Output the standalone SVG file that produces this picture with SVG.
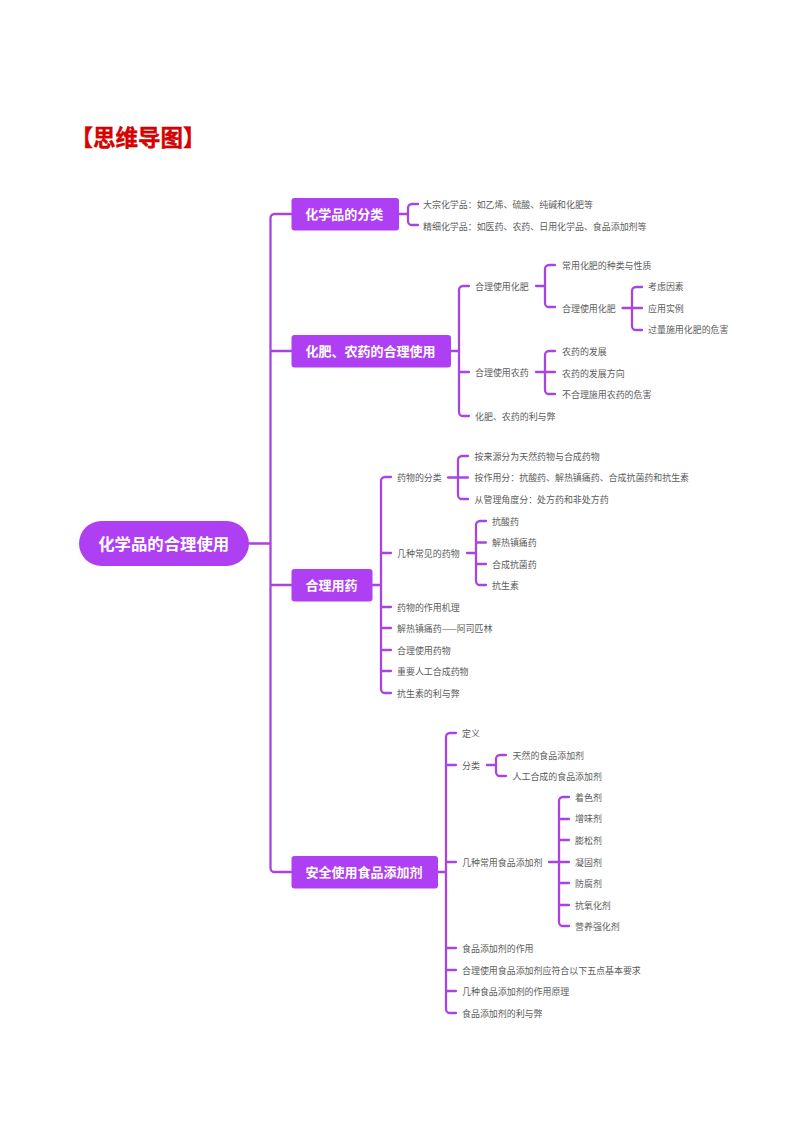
<svg xmlns="http://www.w3.org/2000/svg" width="794" height="1123" viewBox="0 0 794 1123">
<style>
text{font-family:"Noto Sans CJK SC","Liberation Sans",sans-serif}
.t{font-size:22.500px;font-weight:700;fill:#e00000;stroke:#b00000;stroke-width:.4}
.r{fill:#ae3ff2}
.rt{fill:#fff;font-weight:700;text-anchor:middle}
.l{font-size:8.950px;fill:#5c5c5c}
.c path{fill:none;stroke:#a845e0;stroke-width:2.300;stroke-linecap:round}
</style>
<rect width="794" height="1123" fill="#fff"/>
<text class="t" x="70.500" y="145.500">【思维导图】</text>
<g class="c" id="connectors">
<path d="M249 543.500H270.500M270.500 218a4 4 0 0 1 4-4H291.500M270.500 218V868a4 4 0 0 0 4 4H291.500M270.500 351H291.500M270.500 585H291.500"/>
<path d="M399 214H408M418 204H412a4 4 0 0 0-4 4V221a4 4 0 0 0 4 4H418"/>
<path d="M451 351H459M469 286H463a4 4 0 0 0-4 4V412a4 4 0 0 0 4 4H469M459 372H469"/>
<path d="M536 286H545M555 265H549a4 4 0 0 0-4 4V303a4 4 0 0 0 4 4H555"/>
<path d="M622.500 308H632M642 287H636a4 4 0 0 0-4 4V326a4 4 0 0 0 4 4H642M632 308H642"/>
<path d="M536 372H545M555 351H549a4 4 0 0 0-4 4V390a4 4 0 0 0 4 4H555M545 372H555"/>
<path d="M372.500 585H381M391 477H385a4 4 0 0 0-4 4V689a4 4 0 0 0 4 4H391M381 553H391M381 607H391M381 628H391M381 650H391M381 671H391"/>
<path d="M448 477.500H458M468 456H462a4 4 0 0 0-4 4V495a4 4 0 0 0 4 4H468M458 477.500H468"/>
<path d="M467 553H476M486 521H480a4 4 0 0 0-4 4V581a4 4 0 0 0 4 4H486M476 542.500H486M476 564H486"/>
<path d="M438 872H446M456 733H450a4 4 0 0 0-4 4V1009a4 4 0 0 0 4 4H456M446 765H456M446 862H456M446 948H456M446 970H456M446 991H456"/>
<path d="M487 765H496M506 755H500a4 4 0 0 0-4 4V772a4 4 0 0 0 4 4H506"/>
<path d="M549 862H559M569 797H563a4 4 0 0 0-4 4V922a4 4 0 0 0 4 4H569M559 819H569M559 840H569M559 862H569M559 883H569M559 905H569"/>
</g>
<g id="root"><rect class="r" x="79" y="521" width="170" height="45" rx="22.500"/><text class="rt" x="163.700" y="549.800" font-size="16.400">化学品的合理使用</text></g>
<g id="n1"><rect class="r" x="291.500" y="198" width="107.500" height="32.500" rx="3"/><text class="rt" x="344.300" y="219" font-size="13">化学品的分类</text></g>
<g id="n2"><rect class="r" x="291.500" y="335" width="159.500" height="32.500" rx="3"/><text class="rt" x="370.500" y="356" font-size="13">化肥、农药的合理使用</text></g>
<g id="n3"><rect class="r" x="291.500" y="569" width="81" height="32.500" rx="3"/><text class="rt" x="331.500" y="590" font-size="13">合理用药</text></g>
<g id="n4"><rect class="r" x="291.500" y="856" width="146.500" height="32.500" rx="3"/><text class="rt" x="364" y="877" font-size="13">安全使用食品添加剂</text></g>
<g id="leaves">
<g id="a1"><text class="l" x="423" y="207.500">大宗化学品：如乙烯、硫酸、纯碱和化肥等</text></g>
<g id="a2"><text class="l" x="423" y="229.500">精细化学品：如医药、农药、日用化学品、食品添加剂等</text></g>
<g id="b1"><text class="l" x="475" y="289.500">合理使用化肥</text></g>
<g id="b2"><text class="l" x="562" y="268.500">常用化肥的种类与性质</text></g>
<g id="b3"><text class="l" x="562" y="311.500">合理使用化肥</text></g>
<g id="b4"><text class="l" x="648" y="290.200">考虑因素</text></g>
<g id="b5"><text class="l" x="648" y="311.500">应用实例</text></g>
<g id="b6"><text class="l" x="648" y="333.200">过量施用化肥的危害</text></g>
<g id="b7"><text class="l" x="475" y="375.500">合理使用农药</text></g>
<g id="b8"><text class="l" x="562" y="355.200">农药的发展</text></g>
<g id="b9"><text class="l" x="562" y="376.500">农药的发展方向</text></g>
<g id="b10"><text class="l" x="562" y="398.200">不合理施用农药的危害</text></g>
<g id="b11"><text class="l" x="475" y="419.500">化肥、农药的利与弊</text></g>
<g id="c1"><text class="l" x="397" y="481">药物的分类</text></g>
<g id="c2"><text class="l" x="474.500" y="459.500">按来源分为天然药物与合成药物</text></g>
<g id="c3"><text class="l" x="474.500" y="481">按作用分：抗酸药、解热镇痛药、合成抗菌药和抗生素</text></g>
<g id="c4"><text class="l" x="474.500" y="502.500">从管理角度分：处方药和非处方药</text></g>
<g id="c5"><text class="l" x="397" y="556.500">几种常见的药物</text></g>
<g id="c6"><text class="l" x="492" y="524.500">抗酸药</text></g>
<g id="c7"><text class="l" x="492" y="546">解热镇痛药</text></g>
<g id="c8"><text class="l" x="492" y="567.500">合成抗菌药</text></g>
<g id="c9"><text class="l" x="492" y="588.500">抗生素</text></g>
<g id="c10"><text class="l" x="397" y="610.500">药物的作用机理</text></g>
<g id="c11"><text class="l" x="397" y="632">解热镇痛药——阿司匹林</text></g>
<g id="c12"><text class="l" x="397" y="653.500">合理使用药物</text></g>
<g id="c13"><text class="l" x="397" y="675">重要人工合成药物</text></g>
<g id="c14"><text class="l" x="397" y="697">抗生素的利与弊</text></g>
<g id="d1"><text class="l" x="462" y="737">定义</text></g>
<g id="d2"><text class="l" x="462" y="769">分类</text></g>
<g id="d3"><text class="l" x="512.500" y="758.500">天然的食品添加剂</text></g>
<g id="d4"><text class="l" x="512.500" y="780">人工合成的食品添加剂</text></g>
<g id="d5"><text class="l" x="462" y="865.500">几种常用食品添加剂</text></g>
<g id="d6"><text class="l" x="575" y="800.500">着色剂</text></g>
<g id="d7"><text class="l" x="575" y="822">增味剂</text></g>
<g id="d8"><text class="l" x="575" y="844">膨松剂</text></g>
<g id="d9"><text class="l" x="575" y="865.500">凝固剂</text></g>
<g id="d10"><text class="l" x="575" y="887">防腐剂</text></g>
<g id="d11"><text class="l" x="575" y="908.500">抗氧化剂</text></g>
<g id="d12"><text class="l" x="575" y="930">营养强化剂</text></g>
<g id="d13"><text class="l" x="462" y="952">食品添加剂的作用</text></g>
<g id="d14"><text class="l" x="462" y="973.500">合理使用食品添加剂应符合以下五点基本要求</text></g>
<g id="d15"><text class="l" x="462" y="995">几种食品添加剂的作用原理</text></g>
<g id="d16"><text class="l" x="462" y="1016.500">食品添加剂的利与弊</text></g>
</g>
</svg>
